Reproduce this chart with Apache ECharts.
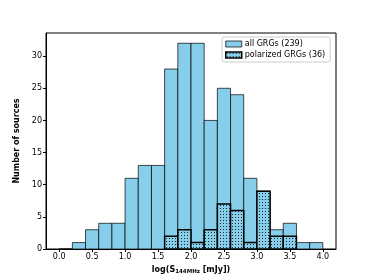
<!DOCTYPE html>
<html>
<head>
<meta charset="utf-8">
<script src="https://cdn.jsdelivr.net/npm/echarts@6/dist/echarts.min.js"></script>
<style>html,body{margin:0;padding:0;background:#fff}#c{width:374px;height:280px}</style>
</head>
<body>
<div id="c"></div>
<script>
// Histogram data (bin width 0.2 in log S_144MHz)
const binStarts = [0.0,0.2,0.4,0.6,0.8,1.0,1.2,1.4,1.6,1.8,2.0,2.2,2.4,2.6,2.8,3.0,3.2,3.4,3.6,3.8];
const binWidth = 0.2;
const allCounts = [0,1,3,4,4,11,13,13,28,32,32,20,25,24,11,9,3,4,1,1];
const polCounts = [0,0,0,0,0,0,0,0,2,3,1,3,7,6,1,9,2,2,0,0];
const xTicks = [0.0,0.5,1.0,1.5,2.0,2.5,3.0,3.5,4.0];
const yTicks = [0,5,10,15,20,25,30];
const seriesNames = ['all GRGs (239)', 'polarized GRGs (36)'];

// dotted hatch pattern
const tile = document.createElement('canvas');
tile.width = 3; tile.height = 3;
const tc = tile.getContext('2d');
tc.fillStyle = '#87CEEB'; tc.fillRect(0,0,3,3);
tc.fillStyle = 'rgba(0,0,0,0.8)'; tc.fillRect(1,1,1,1);
const hatch = {image: tile, repeat: 'repeat'};

function mk(counts, skipZero) {
  const d = [];
  binStarts.forEach((s, i) => {
    if (skipZero && counts[i] === 0) return;
    d.push([s, s + binWidth, counts[i]]);
  });
  return d;
}
function rend(style) {
  return function(params, api) {
    const p0 = api.coord([api.value(0), 0]);
    const p1 = api.coord([api.value(1), api.value(2)]);
    return {type: 'rect', shape: {x: p0[0], y: p1[1], width: p1[0] - p0[0], height: p0[1] - p1[1]}, style: style};
  };
}
const font = 'DejaVu Sans';
const chart = echarts.init(document.getElementById('c'), null, {renderer: 'canvas'});
chart.setOption({
  animation: false,
  textStyle: {fontFamily: font},
  grid: {left: 46, right: 38, top: 33, bottom: 31, show: true, borderColor: '#000', borderWidth: 1},
  legend: {
    orient: 'vertical', left: 222, top: 37, padding: [3, 5, 3, 3], itemGap: 3,
    itemWidth: 16, itemHeight: 6, borderColor: '#ccc', borderWidth: 1, borderRadius: 2,
    backgroundColor: '#fff', icon: 'rect',
    textStyle: {fontSize: 8, fontFamily: font, color: '#000', padding: [0, 0, 0, -2]},
    data: [
      {name: seriesNames[0], itemStyle: {color: '#87CEEB', borderColor: 'rgba(0,0,0,0.7)', borderWidth: 1}},
      {name: seriesNames[1], itemStyle: {color: hatch, borderColor: '#000', borderWidth: 1.5}}
    ]
  },
  xAxis: {
    type: 'value', min: -0.2, max: 4.2,
    name: 'log(S{sub|144MHz} [mJy])', nameLocation: 'middle', nameGap: 15,
    nameTextStyle: {fontSize: 8, fontWeight: 'bold', color: '#000', fontFamily: font,
      rich: {sub: {fontSize: 5.5, fontWeight: 'bold', fontFamily: font, padding: [4, 0, 0, 0]}}},
    axisLine: {onZero: false, lineStyle: {color: '#000', width: 1}},
    axisTick: {show: true, length: 3, lineStyle: {color: '#000'}, customValues: xTicks},
    axisLabel: {fontSize: 8, color: '#000', margin: 4, customValues: xTicks, formatter: v => v.toFixed(1)},
    splitLine: {show: false}
  },
  yAxis: {
    type: 'value', min: 0, max: 33.6,
    name: 'Number of sources', nameLocation: 'middle', nameGap: 21, nameRotate: 90,
    nameTextStyle: {fontSize: 8, fontWeight: 'bold', color: '#000', fontFamily: font},
    axisLine: {show: true, onZero: false, lineStyle: {color: '#000', width: 1}},
    axisTick: {show: true, length: 3, lineStyle: {color: '#000'}, customValues: yTicks},
    axisLabel: {fontSize: 8, color: '#000', margin: 4, customValues: yTicks},
    splitLine: {show: false}
  },
  series: [
    {name: seriesNames[0], type: 'custom', renderItem: rend({fill: '#87CEEB', stroke: 'rgba(0,0,0,0.7)', lineWidth: 1}),
      encode: {x: [0, 1], y: 2}, data: mk(allCounts, false), clip: true, itemStyle: {color: '#87CEEB'}},
    {name: seriesNames[1], type: 'custom', renderItem: rend({fill: hatch, stroke: '#000', lineWidth: 1.5}),
      encode: {x: [0, 1], y: 2}, data: mk(polCounts, true), clip: true, itemStyle: {color: hatch}}
  ]
});
</script>
</body>
</html>
